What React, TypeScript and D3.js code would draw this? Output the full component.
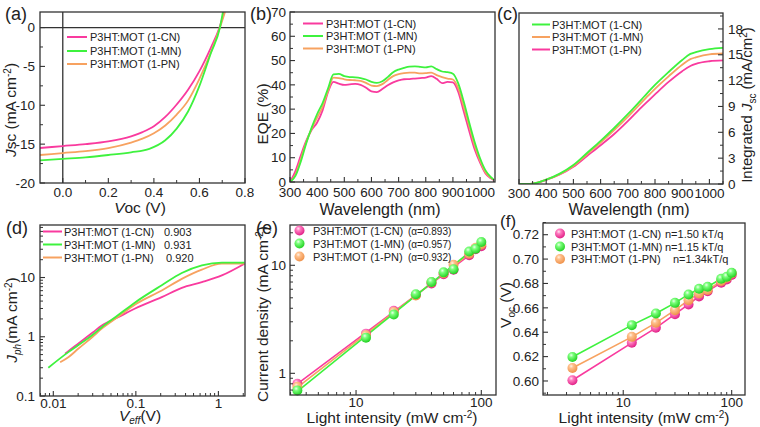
import React from 'react';
import * as d3 from 'd3';

// ---------------- data ----------------
const names = ['P3HT:MOT (1-CN)', 'P3HT:MOT (1-MN)', 'P3HT:MOT (1-PN)'];

// (a) J-V curves
const jvV_CN = [-0.1, 0, 0.1, 0.2, 0.3, 0.35, 0.4, 0.45, 0.5, 0.55, 0.6, 0.65, 0.688, 0.708];
const jvJ_CN = [-15.5, -15.25, -15.0, -14.65, -14.0, -13.45, -12.7, -11.5, -9.9, -8.0, -5.6, -2.6, 0, 2];
const jvV_MN = [-0.1, 0, 0.1, 0.2, 0.3, 0.38, 0.45, 0.5, 0.55, 0.6, 0.65, 0.69, 0.703];
const jvJ_MN = [-17.1, -16.9, -16.7, -16.4, -16.05, -15.6, -14.5, -13.0, -10.8, -7.5, -3.3, 0, 2];
const jvV_PN = [-0.1, 0, 0.1, 0.2, 0.3, 0.35, 0.4, 0.45, 0.5, 0.55, 0.6, 0.65, 0.69, 0.712];
const jvJ_PN = [-16.4, -16.15, -15.9, -15.5, -14.8, -14.3, -13.6, -12.6, -11.2, -9.4, -6.6, -3.2, 0, 2];

// (b) EQE
const eqeWl = [300, 320, 340, 360, 380, 400, 420, 440, 460, 480, 500, 520, 540, 560, 580, 600, 620, 640, 660, 680, 700, 720, 740, 760, 780, 800, 820, 840, 860, 880, 900, 920, 940, 960, 980, 1000, 1020, 1040, 1050];
const eqeCN = [0, 4.5, 11, 17, 21.5, 24.5, 29.5, 37, 41.2, 40.5, 40.0, 40.2, 40.4, 40.0, 38.8, 37.3, 37.0, 38.3, 39.8, 41.0, 41.8, 42.3, 42.4, 42.6, 42.8, 43.0, 43.6, 42.5, 40.7, 41.2, 41.0, 37, 29, 21, 13.5, 8, 3.5, 1.5, 0.8];
const eqeMN = [0, 2.5, 8.5, 16, 22.5, 28, 32.5, 38.5, 44.3, 44.5, 43.6, 43.2, 43.1, 42.8, 42.2, 41.2, 40.8, 41.5, 43.2, 45.2, 46.3, 47.0, 47.5, 47.6, 47.4, 47.2, 47.6, 46.5, 45.5, 45.2, 44.6, 40.5, 33, 24.5, 16.5, 9.8, 4.8, 2, 1];
const eqePN = [0, 3, 9.5, 16.5, 22, 26.5, 31, 37.5, 43.0, 42.8, 42.3, 42.0, 41.9, 41.6, 40.8, 39.7, 39.5, 40.3, 42.0, 43.6, 44.4, 44.8, 45.0, 45.0, 44.7, 44.8, 45.0, 44.0, 43.2, 42.6, 42.2, 38.5, 31, 23, 15, 8.8, 4, 1.7, 0.9];

// (c) integrated Jsc
const intWl = [300, 350, 400, 450, 500, 550, 600, 650, 700, 750, 770, 800, 850, 900, 930, 950, 1000, 1050];
const intCN = [0, 0.05, 0.5, 1.2, 2.2, 3.6, 5.0, 6.5, 8.1, 9.8, 10.5, 11.5, 13.0, 14.4, 15.1, 15.3, 15.65, 15.8];
const intMN = [0, 0.05, 0.5, 1.15, 2.1, 3.45, 4.8, 6.25, 7.8, 9.45, 10.1, 11.05, 12.5, 13.85, 14.5, 14.7, 15.05, 15.15];
const intPN = [0, 0.05, 0.48, 1.1, 2.0, 3.25, 4.5, 5.8, 7.3, 8.9, 9.5, 10.4, 11.85, 13.1, 13.7, 13.95, 14.25, 14.35];

// (d) Jph vs Veff
const jphV_CN = [0.0139, 0.0152, 0.02, 0.03, 0.0387, 0.06, 0.098, 0.206, 0.36, 0.63, 1.1, 2.07];
const jphJ_CN = [0.516, 0.57, 0.765, 1.18, 1.55, 2.11, 3.0, 4.67, 6.7, 8.35, 10.85, 17.1];
const jphV_MN = [0.0087, 0.0152, 0.02, 0.03, 0.0387, 0.06, 0.098, 0.206, 0.36, 0.63, 1.1, 2.07];
const jphJ_MN = [0.30, 0.55, 0.72, 1.08, 1.45, 2.28, 3.8, 7.4, 11.9, 16.0, 17.8, 17.8];
const jphV_PN = [0.0121, 0.0152, 0.02, 0.03, 0.0387, 0.06, 0.098, 0.206, 0.36, 0.63, 1.1, 2.07];
const jphJ_PN = [0.37, 0.45, 0.626, 1.0, 1.37, 2.13, 3.5, 6.05, 9.5, 13.6, 17.1, 17.1];
const jphLabels = ['0.903', '0.931', '0.920'];

// (e) Jsc vs light intensity
const light = [3.4, 12, 20, 30, 40, 50, 60, 80, 90, 100];
const jscCN = [0.80, 2.33, 3.79, 5.3, 6.8, 8.25, 9.1, 12.4, 14.1, 15.0];
const jscMN = [0.695, 2.14, 3.5, 5.4, 7.0, 8.6, 9.2, 13.4, 14.2, 16.4];
const jscPN = [0.75, 2.25, 3.7, 5.25, 6.95, 8.45, 10.1, 12.8, 14.5, 15.6];
const fitX = [3.4, 100];
const fitCN = [0.80, 15.0];
const fitMN = [0.68, 16.2];
const fitPN = [0.74, 15.6];
const alphaLabels = ['(\u03b1=0.893)', '(\u03b1=0.957)', '(\u03b1=0.932)'];

// (f) Voc vs light intensity
const vocCN = [0.6006, 0.6313, 0.6436, 0.6548, 0.6628, 0.6694, 0.6737, 0.6806, 0.6833, 0.6869];
const vocMN = [0.6197, 0.6458, 0.6554, 0.6641, 0.6710, 0.6756, 0.6773, 0.6838, 0.6855, 0.6888];
const vocPN = [0.6107, 0.6362, 0.6477, 0.6581, 0.6663, 0.6718, 0.6746, 0.6820, 0.6847, 0.6883];
const nLabels = ['n=1.50 kT/q', 'n=1.15 kT/q', 'n=1.34kT/q'];

// ---------------- styles ----------------
const PINK = '#f93a9e';
const GREEN = '#3ef23e';
const ORANGE = '#f7a260';
const AX = '#333333';
const FONT = '"Liberation Sans", Arial, Helvetica, sans-serif';
const TICK_FS = 13.5;
const TITLE_FS = 15.5;
const LEG_FS = 11;
const PANEL_FS = 18;

type Sc = (v: number) => number;

function range(a: number, b: number, s: number) {
  const out: number[] = [];
  for (let v = a; v <= b + 1e-9; v += s) out.push(+v.toFixed(6));
  return out;
}
function logMinor(lo: number, hi: number) {
  const out: number[] = [];
  for (let e = -3; e <= 3; e++) {
    for (let m = 2; m <= 9; m++) {
      const v = m * Math.pow(10, e);
      if (v >= lo && v <= hi) out.push(v);
    }
  }
  return out;
}

function bottomAxis(sx: Sc, y: number, major: number[], minor: number[], fmt: (v: number) => string, labelY: number) {
  return (
    <g>
      {minor.map((v, i) => (
        <line key={'m' + i} x1={sx(v)} x2={sx(v)} y1={y} y2={y - 3} stroke={AX} strokeWidth={1} />
      ))}
      {major.map((v, i) => (
        <g key={'M' + i}>
          <line x1={sx(v)} x2={sx(v)} y1={y} y2={y - 5} stroke={AX} strokeWidth={1.1} />
          <text x={sx(v)} y={labelY} textAnchor="middle" fontSize={TICK_FS}>{fmt(v)}</text>
        </g>
      ))}
    </g>
  );
}
function leftAxis(sy: Sc, x: number, major: number[], minor: number[], fmt: (v: number) => string, labelX: number) {
  return (
    <g>
      {minor.map((v, i) => (
        <line key={'m' + i} x1={x} x2={x + 3} y1={sy(v)} y2={sy(v)} stroke={AX} strokeWidth={1} />
      ))}
      {major.map((v, i) => (
        <g key={'M' + i}>
          <line x1={x} x2={x + 5} y1={sy(v)} y2={sy(v)} stroke={AX} strokeWidth={1.1} />
          <text x={labelX} y={sy(v) + 4.7} textAnchor="end" fontSize={TICK_FS}>{fmt(v)}</text>
        </g>
      ))}
    </g>
  );
}
function rightAxis(sy: Sc, x: number, major: number[], minor: number[], fmt: (v: number) => string, labelX: number) {
  return (
    <g>
      {minor.map((v, i) => (
        <line key={'m' + i} x1={x} x2={x - 3} y1={sy(v)} y2={sy(v)} stroke={AX} strokeWidth={1} />
      ))}
      {major.map((v, i) => (
        <g key={'M' + i}>
          <line x1={x} x2={x - 5} y1={sy(v)} y2={sy(v)} stroke={AX} strokeWidth={1.1} />
          <text x={labelX} y={sy(v) + 4.7} textAnchor="start" fontSize={TICK_FS}>{fmt(v)}</text>
        </g>
      ))}
    </g>
  );
}
function frame(x0: number, y0: number, x1: number, y1: number) {
  return <rect x={x0} y={y0} width={x1 - x0} height={y1 - y0} fill="none" stroke={AX} strokeWidth={1.3} />;
}
function curve(xs: number[], ys: number[], sx: Sc, sy: Sc, color: string, clip: string, w = 1.8) {
  const pts = xs.map((x, i) => [sx(x), sy(ys[i])] as [number, number]);
  const d = d3.line().curve(d3.curveMonotoneX)(pts) || '';
  return <path d={d} fill="none" stroke={color} strokeWidth={w} clipPath={`url(#${clip})`} />;
}
function straight(xs: number[], ys: number[], sx: Sc, sy: Sc, color: string, w = 1.6) {
  const pts = xs.map((x, i) => [sx(x), sy(ys[i])] as [number, number]);
  const d = d3.line()(pts) || '';
  return <path d={d} fill="none" stroke={color} strokeWidth={w} />;
}
function balls(xs: number[], ys: number[], sx: Sc, sy: Sc, grad: string, r = 5) {
  return xs.map((x, i) => <circle key={i} cx={sx(x)} cy={sy(ys[i])} r={r} fill={`url(#${grad})`} />);
}
function lineLegend(x0: number, x1: number, tx: number, ys: number[], colors: string[], labels: string[]) {
  return ys.map((y, i) => (
    <g key={i}>
      <line x1={x0} x2={x1} y1={y} y2={y} stroke={colors[i]} strokeWidth={2} />
      <text x={tx} y={y + 4} fontSize={LEG_FS}>{labels[i]}</text>
    </g>
  ));
}

export default function App() {
  // ---- panel (a)
  const ax = d3.scaleLinear().domain([-0.1, 0.8]).range([40, 245]);
  const ay = d3.scaleLinear().domain([-20, 2]).range([183, 12]);
  // ---- panel (b)
  const bx = d3.scaleLinear().domain([300, 1055]).range([290, 495]);
  const by = d3.scaleLinear().domain([0, 70]).range([182, 12]);
  // ---- panel (c)
  const cx = d3.scaleLinear().domain([300, 1050]).range([519, 723]);
  const cy = d3.scaleLinear().domain([0, 19.85]).range([184, 13]);
  // ---- panel (d)
  const dx = d3.scaleLog().domain([0.0069, 2.1]).range([40, 245]);
  const dy = d3.scaleLog().domain([0.1, 77]).range([396, 225]);
  // ---- panel (e)
  const ex = d3.scaleLog().domain([2.97, 131]).range([290, 496]);
  const ey = d3.scaleLog().domain([0.63, 23.6]).range([395, 225]);
  // ---- panel (f)
  const fx = d3.scaleLog().domain([1.82, 132.7]).range([543, 745]);
  const fy = d3.scaleLinear().domain([0.5885, 0.7296]).range([395, 223]);

  const logFmt = (v: number) => String(+v.toPrecision(3));

  return (
    <svg width={760} height={427} viewBox="0 0 760 427"
      style={{ position: 'absolute', left: 0, top: 0, background: '#fff' }}
      fontFamily={FONT} fill="#222">
      <defs>
        <clipPath id="clipA"><rect x={40} y={12} width={205} height={171} /></clipPath>
        <clipPath id="clipB"><rect x={290} y={12} width={205} height={170} /></clipPath>
        <clipPath id="clipC"><rect x={519} y={13} width={204} height={171} /></clipPath>
        <clipPath id="clipD"><rect x={40} y={225} width={205} height={171} /></clipPath>
        <radialGradient id="gPink" cx="0.38" cy="0.32" r="0.7">
          <stop offset="0" stopColor="#ffe6f3" />
          <stop offset="0.3" stopColor="#ff7cc0" />
          <stop offset="1" stopColor="#e01d85" />
        </radialGradient>
        <radialGradient id="gGreen" cx="0.38" cy="0.32" r="0.7">
          <stop offset="0" stopColor="#eaffea" />
          <stop offset="0.3" stopColor="#7cff7c" />
          <stop offset="1" stopColor="#20d020" />
        </radialGradient>
        <radialGradient id="gOrange" cx="0.38" cy="0.32" r="0.7">
          <stop offset="0" stopColor="#fff2e4" />
          <stop offset="0.3" stopColor="#ffc08c" />
          <stop offset="1" stopColor="#ee9048" />
        </radialGradient>
      </defs>

      {/* ================= (a) ================= */}
      <g>
        <line x1={ax(0)} x2={ax(0)} y1={12} y2={183} stroke={AX} strokeWidth={1.3} />
        <line x1={40} x2={245} y1={ay(0)} y2={ay(0)} stroke={AX} strokeWidth={1.3} />
        {curve(jvV_CN, jvJ_CN, ax, ay, PINK, 'clipA')}
        {curve(jvV_PN, jvJ_PN, ax, ay, ORANGE, 'clipA')}
        {curve(jvV_MN, jvJ_MN, ax, ay, GREEN, 'clipA')}
        {frame(40, 12, 245, 183)}
        {bottomAxis(ax, 183, [0, 0.2, 0.4, 0.6, 0.8], [0.1, 0.3, 0.5, 0.7], (v) => v.toFixed(1), 197)}
        {leftAxis(ay, 40, [-20, -15, -10, -5, 0], [-17.5, -12.5, -7.5, -2.5], (v) => String(v), 35)}
        {lineLegend(67, 87, 90, [37, 51, 64], [PINK, GREEN, ORANGE], names)}
        <text x={140} y={213} textAnchor="middle" fontSize={TITLE_FS}>
          <tspan fontStyle="italic">V</tspan>oc (V)
        </text>
        <text transform="translate(16,110) rotate(-90)" textAnchor="middle" fontSize={TITLE_FS}>
          <tspan fontStyle="italic">J</tspan>sc (mA cm<tspan dy={-5} fontSize={10}>-2</tspan><tspan dy={5}>)</tspan>
        </text>
        <text x={5} y={20} fontSize={PANEL_FS}>(a)</text>
      </g>

      {/* ================= (b) ================= */}
      <g>
        {curve(eqeWl, eqeCN, bx, by, PINK, 'clipB')}
        {curve(eqeWl, eqePN, bx, by, ORANGE, 'clipB')}
        {curve(eqeWl, eqeMN, bx, by, GREEN, 'clipB')}
        {frame(290, 12, 495, 182)}
        {bottomAxis(bx, 182, range(300, 1000, 100), range(350, 1050, 100), (v) => String(v), 196.5)}
        {leftAxis(by, 290, range(0, 70, 10), range(5, 65, 10), (v) => String(v), 286)}
        {lineLegend(303, 323, 326, [23.5, 36, 48.5], [PINK, GREEN, ORANGE], names)}
        <text x={380} y={214.5} textAnchor="middle" fontSize={16}>Wavelength (nm)</text>
        <text transform="translate(268,114) rotate(-90)" textAnchor="middle" fontSize={TITLE_FS}>EQE (%)</text>
        <text x={250} y={20} fontSize={PANEL_FS}>(b)</text>
      </g>

      {/* ================= (c) ================= */}
      <g>
        {curve(intWl, intPN, cx, cy, PINK, 'clipC')}
        {curve(intWl, intMN, cx, cy, ORANGE, 'clipC')}
        {curve(intWl, intCN, cx, cy, GREEN, 'clipC')}
        {frame(519, 13, 723, 184)}
        {bottomAxis(cx, 184, range(300, 1000, 100), range(350, 1050, 100), (v) => String(v), 197.5)}
        {rightAxis(cy, 723, range(0, 18, 3), range(1.5, 19.5, 3), (v) => String(v), 728)}
        {lineLegend(532, 550, 552, [24.5, 37, 49.5], [GREEN, ORANGE, PINK], names)}
        <text x={629} y={214.5} textAnchor="middle" fontSize={16}>Wavelength (nm)</text>
        <text transform="translate(752,105) rotate(-90)" textAnchor="middle" fontSize={15}>
          Integrated <tspan fontStyle="italic">J</tspan><tspan dy={3.5} fontSize={10}>sc</tspan><tspan dy={-3.5}> (mA/cm</tspan><tspan dy={-5} fontSize={10}>2</tspan><tspan dy={5}>)</tspan>
        </text>
        <text x={497} y={20} fontSize={PANEL_FS}>(c)</text>
      </g>

      {/* ================= (d) ================= */}
      <g>
        {curve(jphV_CN, jphJ_CN, dx, dy, PINK, 'clipD')}
        {curve(jphV_PN, jphJ_PN, dx, dy, ORANGE, 'clipD')}
        {curve(jphV_MN, jphJ_MN, dx, dy, GREEN, 'clipD')}
        {frame(40, 225, 245, 396)}
        {bottomAxis(dx, 396, [0.01, 0.1, 1], logMinor(0.0069, 2.1), logFmt, 408)}
        {leftAxis(dy, 40, [0.1, 1, 10], logMinor(0.1, 77), logFmt, 35)}
        {lineLegend(43, 62, 64, [231.5, 244.5, 257.5], [PINK, GREEN, ORANGE], names)}
        {jphLabels.map((t, i) => (
          <text key={i} x={i === 2 ? 166 : 164} y={[231.5, 244.5, 257.5][i] + 4} fontSize={LEG_FS}>{t}</text>
        ))}
        <text x={140} y={421} textAnchor="middle" fontSize={TITLE_FS}>
          <tspan fontStyle="italic">V</tspan><tspan dy={3} fontSize={10} fontStyle="italic">eff</tspan><tspan dy={-3}>(V)</tspan>
        </text>
        <text transform="translate(17,320) rotate(-90)" textAnchor="middle" fontSize={TITLE_FS}>
          <tspan fontStyle="italic">J</tspan><tspan dy={3.5} fontSize={10} fontStyle="italic">ph</tspan><tspan dy={-3.5}>(mA cm</tspan><tspan dy={-5} fontSize={10}>-2</tspan><tspan dy={5}>)</tspan>
        </text>
        <text x={6} y={234} fontSize={PANEL_FS}>(d)</text>
      </g>

      {/* ================= (e) ================= */}
      <g>
        {straight(fitX, fitCN, ex, ey, PINK)}
        {straight(fitX, fitPN, ex, ey, ORANGE)}
        {straight(fitX, fitMN, ex, ey, GREEN)}
        {balls(light, jscCN, ex, ey, 'gPink')}
        {balls(light, jscPN, ex, ey, 'gOrange')}
        {balls(light, jscMN, ex, ey, 'gGreen')}
        {frame(290, 225, 496, 395)}
        {bottomAxis(ex, 395, [10, 100], logMinor(2.97, 131), logFmt, 407)}
        {leftAxis(ey, 290, [1, 10], logMinor(0.63, 23.6), logFmt, 286)}
        {[230.5, 243.5, 256.5].map((y, i) => (
          <g key={i}>
            <circle cx={299.5} cy={y} r={5} fill={`url(#${['gPink', 'gGreen', 'gOrange'][i]})`} />
            <text x={313} y={y + 4} fontSize={LEG_FS}>{names[i]}</text>
            <text x={408} y={y + 4} fontSize={10}>{alphaLabels[i]}</text>
          </g>
        ))}
        <text x={392} y={423} textAnchor="middle" fontSize={TITLE_FS}>
          Light intensity (mW cm<tspan dy={-5} fontSize={10}>-2</tspan><tspan dy={5}>)</tspan>
        </text>
        <text transform="translate(268,314) rotate(-90)" textAnchor="middle" fontSize={TITLE_FS}>
          Current density (mA cm<tspan dy={-5} fontSize={10}>-2</tspan><tspan dy={5}>)</tspan>
        </text>
        <text x={256} y={234} fontSize={PANEL_FS}>(e)</text>
      </g>

      {/* ================= (f) ================= */}
      <g>
        {straight(light, vocCN, fx, fy, PINK)}
        {straight(light, vocPN, fx, fy, ORANGE)}
        {straight(light, vocMN, fx, fy, GREEN)}
        {balls(light, vocCN, fx, fy, 'gPink')}
        {balls(light, vocPN, fx, fy, 'gOrange')}
        {balls(light, vocMN, fx, fy, 'gGreen')}
        {frame(543, 223, 745, 395)}
        {bottomAxis(fx, 395, [10, 100], logMinor(1.82, 132.7), logFmt, 407)}
        {leftAxis(fy, 543, range(0.6, 0.72, 0.02), range(0.59, 0.73, 0.02), (v) => v.toFixed(2), 539)}
        {[233.5, 246.5, 259].map((y, i) => (
          <g key={i}>
            <circle cx={560} cy={y} r={5} fill={`url(#${['gPink', 'gGreen', 'gOrange'][i]})`} />
            <text x={571} y={y + 4} fontSize={LEG_FS}>{names[i]}</text>
            <text x={i === 2 ? 673 : 665} y={y + 4} fontSize={LEG_FS}>{nLabels[i]}</text>
          </g>
        ))}
        <text x={644} y={423} textAnchor="middle" fontSize={TITLE_FS}>
          Light intensity (mW cm<tspan dy={-5} fontSize={10}>-2</tspan><tspan dy={5}>)</tspan>
        </text>
        <text transform="translate(511,305) rotate(-90)" textAnchor="middle" fontSize={TITLE_FS}>
          V<tspan dy={3.5} fontSize={10}>oc</tspan><tspan dy={-3.5}> (V)</tspan>
        </text>
        <text x={500} y={227} fontSize={17}>(f)</text>
      </g>
    </svg>
  );
}
